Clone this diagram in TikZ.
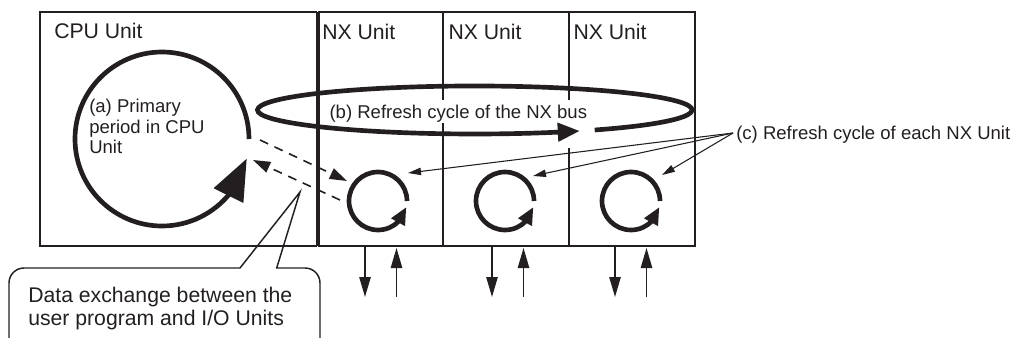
\documentclass[tikz,border=0pt]{standalone}
\usepackage{fontspec}
\setmainfont{Liberation Sans}
\usetikzlibrary{arrows.meta,bending}
\definecolor{ink}{RGB}{35,31,32}
\begin{document}
\begin{tikzpicture}[x=0.75pt,y=-0.75pt,
  box/.style={draw=ink,line width=1.1pt},
  cyc/.style={draw=ink,line width=3.5pt},
  dashline/.style={draw=ink,line width=1.2pt,dash pattern=on 6.75pt off 5.25pt},
  thinarrow/.style={draw=ink,line width=0.8pt,-{Triangle[length=9.75pt,width=5.5pt]}},
  ioarrow/.style={draw=ink,line width=1.2pt,-{Triangle[length=15pt,width=8.5pt]}},
  big/.style={font=\fontsize{15.9}{19}\selectfont,text=ink,inner sep=0pt,anchor=base west},
  small/.style={font=\fontsize{13.9}{16}\selectfont,text=ink,inner sep=0pt,anchor=base west}]
\useasboundingbox (0,0) rectangle (1013,338);

% unit boxes
\draw[box] (40,12) rectangle (316.5,246);
\draw[box] (318,12) -- (695,12) -- (695,246) -- (318,246);
\draw[draw=ink,line width=2.3pt] (318,12) -- (318,246);
\draw[box] (443,12) -- (443,100) (443,123) -- (443,246);
\draw[box] (569,12) -- (569,100) (569,148) -- (569,246);

% titles
\node[big] (cpu) at (54,38.3) {CPU Unit};
\node[big] (nx1) at (322,39.3) {NX Unit};
\node[big] (nx2) at (448.3,39.3) {NX Unit};
\node[big] (nx3) at (573.3,39.3) {NX Unit};

% (a) primary period
\coordinate (cpuS) at (249,139);
\draw[cyc,-{Triangle[length=31pt,width=24pt]}] (cpuS) arc[start angle=0,end angle=-347,radius=87];
\node[small] (a1) at (89,112.5) {(a) Primary};
\node[small] (a2) at (89,133.3) {period in CPU};
\node[small] (a3) at (89,154) {Unit};

% (b) NX bus refresh
\node[small] (b) at (329.3,118.3) {(b) Refresh cycle of the NX bus};
\coordinate (busS) at (594.7,130.0);
\draw[cyc,-{Triangle[length=16.5pt,width=13.5pt]}] (busS) arc[start angle=56.5,end angle=-298.9,x radius=217.3,y radius=24];

% small refresh circles
\foreach \cx/\nm in {378/c1,505/c2,631/c3}{
  \coordinate (\nm) at (\cx+29,201);
  \draw[cyc,-{Triangle[length=13pt,width=11pt]}] (\nm) arc[start angle=0,end angle=-348,radius=29];
}

% dashed data exchange arrows
\coordinate (d1s) at (260,140);
\coordinate (d1e) at (347,181);
\coordinate (d2s) at (340,200);
\coordinate (d2e) at (253,160);
\draw[dashline,-{Triangle[length=13pt,width=8.5pt]}] (d1s) -- (d1e);
\draw[dashline,-{Triangle[length=13pt,width=8.5pt]}] (d2s) -- (d2e);

% (c) label and arrows
\node[small] (c) at (736,139.3) {(c) Refresh cycle of each NX Unit};
\coordinate (co) at (733,133);
\coordinate (t1) at (408,173);
\coordinate (t2) at (533,176);
\coordinate (t3) at (662,175);
\draw[thinarrow] (co) -- (t1);
\draw[thinarrow] (co) -- (t2);
\draw[thinarrow] (co) -- (t3);

% I/O arrows
\foreach \xd/\xu [count=\i] in {365/396.5,492/523.5,615/646.5}{
  \coordinate (dn\i a) at (\xd,247);
  \coordinate (dn\i b) at (\xd,297);
  \coordinate (up\i a) at (\xu,297);
  \coordinate (up\i b) at (\xu,248);
  \draw[ioarrow] (dn\i a) -- (dn\i b);
  \draw[ioarrow] (up\i a) -- (up\i b);
}

% callout
\coordinate (tip) at (300,192);
\draw[box] (9,345) -- (9,283) arc[start angle=180,end angle=270,radius=15]
  -- (240,268) -- (tip) -- (276.7,268) -- (305,268)
  arc[start angle=270,end angle=360,radius=15] -- (320,345);
\node[big] (d1) at (28,302.3) {Data exchange between the};
\node[big] (d2) at (28,325.5) {user program and I/O Units};
\end{tikzpicture}
\end{document}
